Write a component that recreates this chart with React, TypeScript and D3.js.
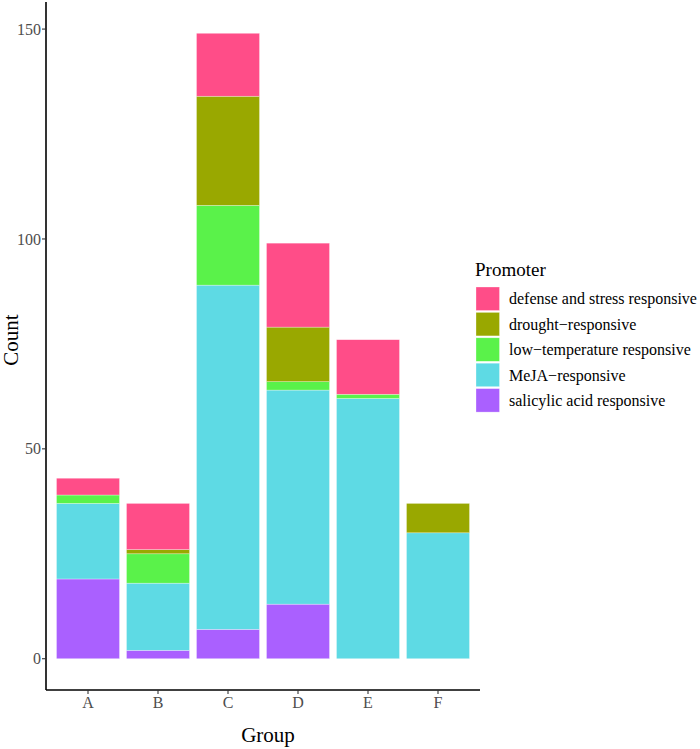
import React from "react";
import * as d3 from "d3";

const groups = ["A", "B", "C", "D", "E", "F"];
const promoters = [
  "defense and stress responsive",
  "drought\u2212responsive",
  "low\u2212temperature responsive",
  "MeJA\u2212responsive",
  "salicylic acid responsive",
];
const colors = ["#FF4D88", "#99A800", "#5AF24A", "#5EDAE4", "#AA60FF"];
// stacked from bottom: salicylic, MeJA, low-temp, drought, defense
const defense = [4, 11, 15, 20, 13, 0];
const drought = [0, 1, 26, 13, 0, 7];
const lowTemp = [2, 7, 19, 2, 1, 0];
const meja = [18, 16, 82, 51, 62, 30];
const salicylic = [19, 2, 7, 13, 0, 0];
const yTicks = [0, 50, 100, 150];

const seriesVals = [defense, drought, lowTemp, meja, salicylic];

export default function App() {
  const W = 700, H = 749;
  const left = 46, right = 480, top = 2, bottom = 690;
  const font = "Liberation Serif, Times New Roman, Times, serif";

  const x = d3.scaleBand().domain(groups).range([left, right]).paddingInner(0.1).paddingOuter(0.15);
  const totals = groups.map((_, i) => seriesVals.reduce((s, a) => s + a[i], 0));
  const maxT = d3.max(totals) as number;
  const y = d3.scaleLinear().domain([-maxT * 0.05, maxT * 1.05]).range([bottom, top]);

  const rows = groups.map((g, i) => {
    const r: any = { group: g };
    promoters.forEach((p, k) => (r[p] = seriesVals[k][i]));
    return r;
  });
  const stackOrder = [...promoters].reverse();
  const stacked = d3.stack().keys(stackOrder)(rows);

  return (
    <svg width={W} height={H} style={{ display: "block", position: "absolute", left: 0, top: 0 }}>
      <rect width={W} height={H} fill="white" />
      {stacked.map((layer) => {
        const k = promoters.indexOf(layer.key);
        return layer.map((d, i) =>
          d[1] - d[0] > 0 ? (
            <rect
              key={layer.key + i}
              x={x(groups[i])}
              width={x.bandwidth()}
              y={y(d[1])}
              height={y(d[0]) - y(d[1])}
              fill={colors[k]}
              stroke="white"
              strokeOpacity={0.5}
              strokeWidth={0.6}
            />
          ) : null
        );
      })}
      {/* axes */}
      <line x1={left} x2={left} y1={top} y2={bottom} stroke="black" strokeWidth={1.6} />
      <line x1={left} x2={right} y1={bottom} y2={bottom} stroke="black" strokeWidth={1.6} />
      {yTicks.map((t) => (
        <g key={t}>
          <line x1={left - 4} x2={left} y1={y(t)} y2={y(t)} stroke="#333" strokeWidth={1.1} />
          <text x={left - 5} y={y(t)} dy="0.35em" textAnchor="end" fontFamily={font} fontSize={16} fill="#4D4D4D">
            {t}
          </text>
        </g>
      ))}
      {groups.map((g) => (
        <g key={g}>
          <line
            x1={(x(g) as number) + x.bandwidth() / 2}
            x2={(x(g) as number) + x.bandwidth() / 2}
            y1={bottom}
            y2={bottom + 4}
            stroke="#333"
            strokeWidth={1.1}
          />
          <text
            x={(x(g) as number) + x.bandwidth() / 2}
            y={bottom + 18}
            textAnchor="middle"
            fontFamily={font}
            fontSize={16}
            fill="#4D4D4D"
          >
            {g}
          </text>
        </g>
      ))}
      <text x={268} y={742} textAnchor="middle" fontFamily={font} fontSize={21} fill="black">
        Group
      </text>
      <text
        transform={`translate(18, 340) rotate(-90)`}
        textAnchor="middle"
        fontFamily={font}
        fontSize={21}
        fill="black"
      >
        Count
      </text>
      {/* legend */}
      <text x={475} y={276} fontFamily={font} fontSize={19} fill="black">
        Promoter
      </text>
      {promoters.map((p, k) => (
        <g key={p} transform={`translate(476, ${287 + k * 25.4})`}>
          <rect width={23.5} height={23.5} fill={colors[k]} stroke="white" strokeOpacity={0.5} strokeWidth={0.6} />
          <text x={33} y={11.75} dy="0.35em" fontFamily={font} fontSize={16} fill="black">
            {p}
          </text>
        </g>
      ))}
    </svg>
  );
}
